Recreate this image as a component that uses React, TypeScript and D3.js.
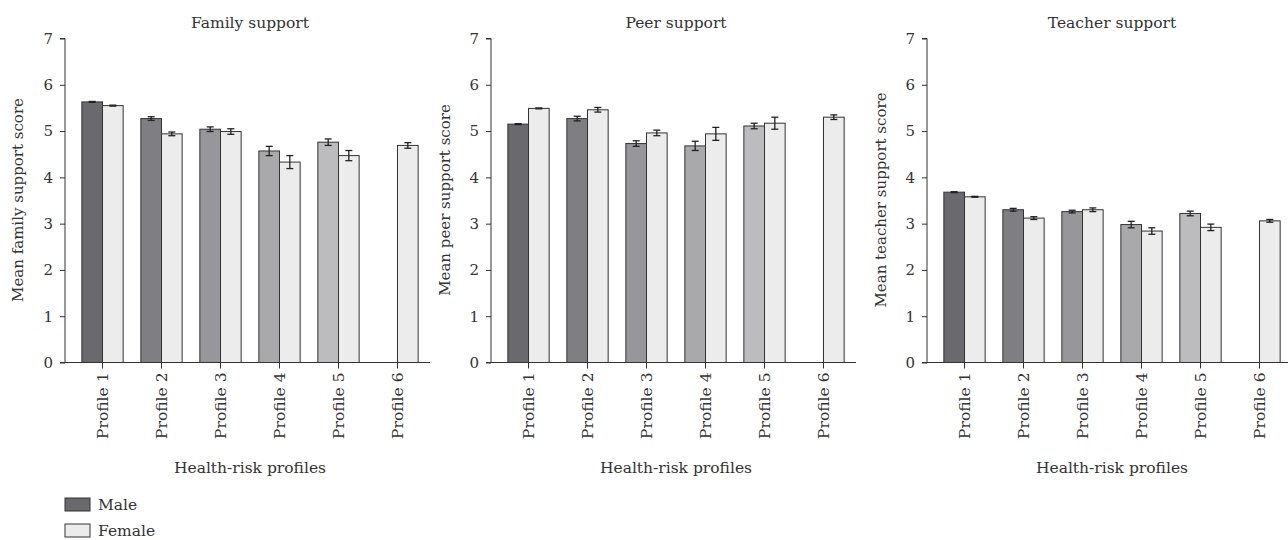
import React, { useRef, useEffect } from "react";
import { select, scaleBand, scaleLinear, axisLeft, axisBottom } from "d3";

const profiles = ["Profile 1", "Profile 2", "Profile 3", "Profile 4", "Profile 5", "Profile 6"];
const yTicks = [0, 1, 2, 3, 4, 5, 6, 7];

// null = no male group in profile 6
const familyMale = [5.63, 5.27, 5.04, 4.57, 4.76, null];
const familyMaleErr = [0.01, 0.04, 0.05, 0.1, 0.07, 0];
const familyFemale = [5.55, 4.94, 4.99, 4.33, 4.47, 4.69];
const familyFemaleErr = [0.01, 0.04, 0.06, 0.14, 0.11, 0.06];

const peerMale = [5.15, 5.27, 4.73, 4.68, 5.11, null];
const peerMaleErr = [0.01, 0.05, 0.06, 0.1, 0.06, 0];
const peerFemale = [5.49, 5.46, 4.96, 4.94, 5.17, 5.3];
const peerFemaleErr = [0.01, 0.05, 0.06, 0.14, 0.13, 0.05];

const teacherMale = [3.68, 3.3, 3.26, 2.98, 3.22, null];
const teacherMaleErr = [0.01, 0.03, 0.03, 0.07, 0.05, 0];
const teacherFemale = [3.58, 3.12, 3.3, 2.84, 2.92, 3.06];
const teacherFemaleErr = [0.01, 0.03, 0.04, 0.07, 0.07, 0.03];

const maleShades = ["#6a6a6e", "#7f7f83", "#97979b", "#a9a9ac", "#bcbcbf", "#6a6a6e"];
const femaleColor = "#ececec";
const ink = "#333";
const font = "'DejaVu Serif', serif";

const panels = [
  { title: "Family support", ylabel: "Mean family support score", male: familyMale, maleErr: familyMaleErr, female: familyFemale, femaleErr: familyFemaleErr, x0: 65, labelX: 18 },
  { title: "Peer support", ylabel: "Mean peer support score", male: peerMale, maleErr: peerMaleErr, female: peerFemale, femaleErr: peerFemaleErr, x0: 491, labelX: 445 },
  { title: "Teacher support", ylabel: "Mean teacher support score", male: teacherMale, maleErr: teacherMaleErr, female: teacherFemale, femaleErr: teacherFemaleErr, x0: 927, labelX: 881 },
];

const top = 38.5;
const bottom = 362.5;

function App() {
  const svgRef = useRef(null);

  useEffect(() => {
    const svg = select(svgRef.current);
    svg.selectAll("*").remove();

    const y = scaleLinear().domain([0, 7]).range([bottom, top]);

    panels.forEach(p => {
      const g = svg.append("g");
      const x = scaleBand()
        .domain(profiles)
        .range([p.x0 + 8, p.x0 + 362])
        .paddingInner(0.3)
        .paddingOuter(0.15);
      const bw = x.bandwidth() / 2;

      // bars
      profiles.forEach((prof, i) => {
        const left = x(prof);
        const mv = p.male[i];
        const fv = p.female[i];
        const mx = left;
        const fx = left + bw;
        g.append("rect")
          .attr("x", mx)
          .attr("y", y(mv ?? 0))
          .attr("width", bw)
          .attr("height", bottom - y(mv ?? 0))
          .attr("fill", maleShades[i])
          .attr("stroke", ink)
          .attr("stroke-width", 1);
        g.append("rect")
          .attr("x", fx)
          .attr("y", y(fv))
          .attr("width", bw)
          .attr("height", bottom - y(fv))
          .attr("fill", femaleColor)
          .attr("stroke", ink)
          .attr("stroke-width", 1);

        const errs = [];
        if (mv != null) errs.push([mx + bw / 2, mv, p.maleErr[i]]);
        errs.push([fx + bw / 2, fv, p.femaleErr[i]]);
        errs.forEach(([cx, v, e]) => {
          const y1 = y(v + e);
          const y2 = y(v - e);
          g.append("line").attr("x1", cx).attr("x2", cx).attr("y1", y1).attr("y2", y2).attr("stroke", "#222").attr("stroke-width", 1.3);
          [y1, y2].forEach(yy => {
            g.append("line").attr("x1", cx - 3.5).attr("x2", cx + 3.5).attr("y1", yy).attr("y2", yy).attr("stroke", "#222").attr("stroke-width", 1.3);
          });
        });
      });

      // y axis
      const ya = g.append("g")
        .attr("transform", `translate(${p.x0},0)`)
        .call(axisLeft(y).tickValues(yTicks).tickSize(5).tickPadding(7).tickFormat(d => String(d)));
      ya.select(".domain").attr("stroke", ink).attr("d", `M-5,${top}H0V${bottom}`);
      ya.selectAll("line").attr("stroke", ink);
      ya.selectAll("text").attr("font-family", font).attr("font-size", 15).attr("fill", ink);

      // x axis
      const xa = g.append("g")
        .attr("transform", `translate(0,${bottom})`)
        .call(axisBottom(x).tickSize(6).tickPadding(6));
      xa.select(".domain").attr("stroke", ink).attr("d", `M${p.x0 - 5},0H${p.x0 + 365}`);
      xa.selectAll("line").attr("stroke", ink);
      xa.selectAll("text")
        .attr("font-family", font)
        .attr("font-size", 15.5)
        .attr("fill", ink)
        .attr("transform", "rotate(-90)")
        .attr("text-anchor", "end")
        .attr("dy", "0.35em")
        .attr("x", -10)
        .attr("y", 0);

      const cx = p.x0 + 185;
      g.append("text")
        .attr("x", cx).attr("y", 28)
        .attr("text-anchor", "middle")
        .attr("font-family", font).attr("font-size", 15.5).attr("fill", ink)
        .text(p.title);
      g.append("text")
        .attr("x", cx).attr("y", 473)
        .attr("text-anchor", "middle")
        .attr("font-family", font).attr("font-size", 15.5).attr("fill", ink)
        .text("Health-risk profiles");
      g.append("text")
        .attr("transform", `translate(${p.labelX},${200}) rotate(-90)`)
        .attr("text-anchor", "middle")
        .attr("dy", "0.35em")
        .attr("font-family", font).attr("font-size", 15).attr("fill", ink)
        .text(p.ylabel);
    });

    // legend
    const legend = [
      { label: "Male", color: maleShades[0] },
      { label: "Female", color: femaleColor },
    ];
    legend.forEach((l, i) => {
      const ly = 498 + i * 26;
      svg.append("rect")
        .attr("x", 65).attr("y", ly).attr("width", 25).attr("height", 13)
        .attr("fill", l.color).attr("stroke", ink).attr("stroke-width", 1);
      svg.append("text")
        .attr("x", 98).attr("y", ly + 12)
        .attr("font-family", font).attr("font-size", 15.5).attr("fill", ink)
        .text(l.label);
    });
  }, []);

  return (
    <svg
      ref={svgRef}
      width={1288}
      height={540}
      style={{ position: "absolute", left: 0, top: 0, background: "#fff" }}
    />
  );
}

export default App;
